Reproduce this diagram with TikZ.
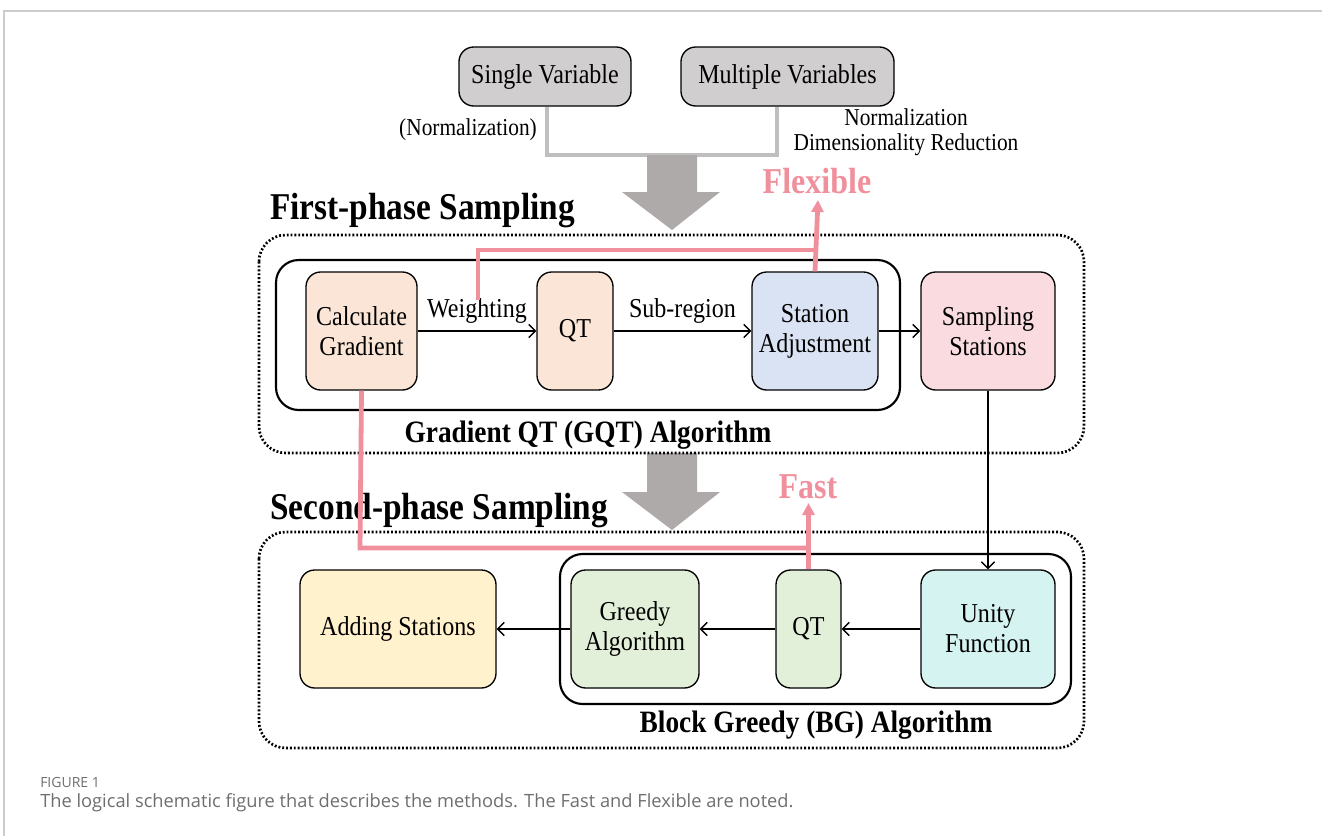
\documentclass[tikz,border=0pt]{standalone}
\usepackage{fontspec}
\setmainfont{Liberation Serif}[FakeStretch=0.88]
\newfontfamily\capfont{Open Sans}
\usetikzlibrary{arrows.meta,calc}
\definecolor{boxgray}{HTML}{D0CECE}
\definecolor{peach}{HTML}{FBE5D6}
\definecolor{lblue}{HTML}{DAE3F3}
\definecolor{lpink}{HTML}{F9DBE0}
\definecolor{lyellow}{HTML}{FFF2CC}
\definecolor{lgreen}{HTML}{E2F0D9}
\definecolor{lcyan}{HTML}{D5F3F1}
\definecolor{pinkline}{HTML}{F0909C}
\definecolor{brgray}{HTML}{BFBFBF}
\definecolor{bigarrow}{HTML}{AEAAAA}
\definecolor{framegray}{HTML}{CCCCCC}
\definecolor{captxt}{HTML}{6E6E6E}
\tikzset{
  box/.style={draw=black, line width=1pt, rounded corners=11pt, align=center,
    font=\fontsize{20.5}{22.5}\selectfont, inner sep=2pt},
  inbox/.style={draw=black, line width=1.6pt, rounded corners=17pt},
  dotbox/.style={draw=black, line width=2pt, dash pattern=on 1.4pt off 1.5pt, rounded corners=20pt},
  flow/.style={draw=black, line width=1pt, -{Straight Barb[length=5pt,width=10pt,line width=1pt]}},
  pinkl/.style={draw=pinkline, line width=3.6pt},
  pinka/.style={draw=pinkline, line width=3.6pt, -{Triangle[length=9pt,width=9pt]}},
  lab/.style={font=\fontsize{20.5}{22.5}\selectfont, inner sep=1pt},
  small/.style={font=\fontsize{18.2}{19}\selectfont, inner sep=1pt, align=center},
  title/.style={font=\bfseries\fontsize{28.4}{30}\selectfont, inner sep=0pt, anchor=west},
  subtitle/.style={font=\bfseries\fontsize{23.3}{25}\selectfont, inner sep=0pt},
  note/.style={font=\bfseries\fontsize{27.3}{29}\selectfont, text=pinkline, inner sep=0pt},
  bigarr/.style={fill=bigarrow, draw=none}
}
\begin{document}
\begin{tikzpicture}[x=0.75pt,y=-0.75pt]
\useasboundingbox (0,0) rectangle (1322,836);
% frame
\draw[framegray, line width=0.9pt] (1322,11) -- (4,11) -- (4,836);

% top inputs
\node[box, fill=boxgray, minimum width=129pt, minimum height=44.25pt] (sv) at (545,76.5) {Single Variable};
\node[box, fill=boxgray, minimum width=159.75pt, minimum height=44.25pt] (mv) at (787.5,76.5) {Multiple Variables};
\coordinate (brl) at (547,155);
\coordinate (brr) at (777,155);
\draw[brgray, line width=2.4pt] (sv.south -| brl) -- (brl) -- (brr) -- (mv.south -| brr);
\node[small] (nrm1) at (468,130) {(Normalization)};
\node[small] (nrm2) at (906,132.5) {Normalization\\Dimensionality Reduction};

% big arrows
\fill[bigarr] (647,155) -- (697,155) -- (697,192) -- (720,192) -- (672,230) -- (622,192) -- (647,192) -- cycle;
\fill[bigarr] (647,453) -- (697,453) -- (697,492) -- (720,492) -- (672,530) -- (622,492) -- (647,492) -- cycle;

% titles
\node[title] (t1) at (270,211) {First-phase Sampling};
\node[title] (t2) at (270,511) {Second-phase Sampling};
\node[note] (flex) at (817,181) {Flexible};
\node[note] (fast) at (808,487) {Fast};

% phase 1 containers
\draw[dotbox] (259,235) rectangle (1084,453);
\draw[inbox] (276,260) rectangle (900,410);
\node[subtitle] (gqt) at (588,435.5) {Gradient QT (GQT) Algorithm};

% phase 1 nodes
\node[box, fill=peach, minimum width=83.25pt, minimum height=88.5pt] (cg) at (361.5,331) {Calculate\\Gradient};
\node[box, fill=peach, minimum width=57pt, minimum height=88.5pt] (qt1) at (575,331) {QT};
\node[box, fill=lblue, minimum width=94.5pt, minimum height=88.5pt] (sa) at (815,331) {Station\\Adjustment};
\node[box, fill=lpink, minimum width=100.5pt, minimum height=88.5pt] (ss) at (988,331) {Sampling\\Stations};

\draw[flow] (cg) -- (qt1) node[lab, midway, above=4pt] (wl) {Weighting};
\draw[flow] (qt1) -- (sa) node[lab, midway, above=4pt] (sl) {Sub-region};
\draw[flow] (sa) -- (ss);

% phase 2 containers
\draw[dotbox] (259,532) rectangle (1084,748);
\draw[inbox] (560,554) rectangle (1071,704);
\node[subtitle] (bg) at (816,725.5) {Block Greedy (BG) Algorithm};

% phase 2 nodes
\node[box, fill=lyellow, minimum width=147pt, minimum height=88.5pt] (as) at (398,629) {Adding Stations};
\node[box, fill=lgreen, minimum width=96pt, minimum height=88.5pt] (ga) at (635,629) {Greedy\\Algorithm};
\node[box, fill=lgreen, minimum width=48.75pt, minimum height=88.5pt] (qt2) at (808.5,629) {QT};
\node[box, fill=lcyan, minimum width=100.5pt, minimum height=88.5pt] (uf) at (988,629) {Unity\\Function};

\draw[flow] (ss) -- (uf);
\draw[flow] (uf) -- (qt2);
\draw[flow] (qt2) -- (ga);
\draw[flow] (ga) -- (as);

% pink paths
\coordinate (p1s) at (478,300);
\coordinate (p1c) at (478,250);
\coordinate (flexend) at (818,200);
\coordinate (fastend) at (808.5,503);
\coordinate (p2c) at (360,548);
\draw[pinkl] (p1s) -- (p1c) -- (p1c -| sa.north);
\draw[pinka] (sa.north) -- (flexend);
\draw[pinkl] (cg.south) -- (p2c) -- (p2c -| qt2.north);
\draw[pinka] (qt2.north) -- (fastend);

% caption
\node[anchor=west, inner sep=0pt, text=captxt, font=\capfont\fontsize{10.5}{12}\selectfont] (fig) at (40,782) {FIGURE 1};
\node[anchor=west, inner sep=0pt, text=captxt, font=\capfont\fontsize{13.7}{16}\selectfont] (cap) at (40,803) {The logical schematic figure that describes the methods. The Fast and Flexible are noted.};
\end{tikzpicture}
\end{document}
